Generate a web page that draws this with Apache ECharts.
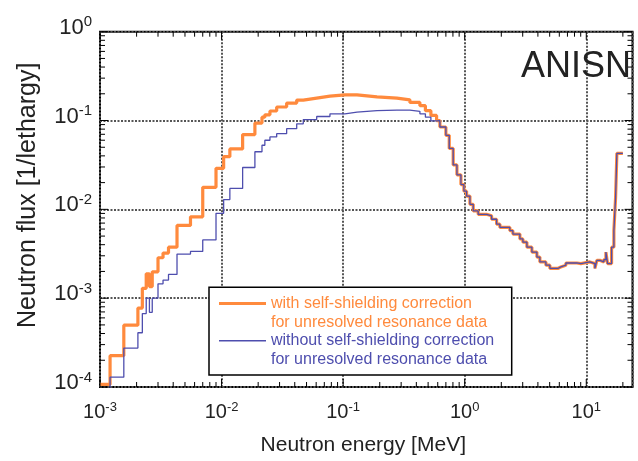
<!DOCTYPE html>
<html><head><meta charset="utf-8">
<script src="https://cdn.jsdelivr.net/npm/echarts@6/dist/echarts.min.js"></script>
<style>html,body{margin:0;padding:0;background:#fff}#c{width:638px;height:461px}</style>
</head><body><div id="c"></div>
<script>
// Group boundaries (MeV)
const energyEdges = [0.001, 0.00121, 0.00157, 0.00205, 0.00223, 0.0024, 0.00255, 0.00269, 0.003, 0.0033,
  0.00366, 0.0043, 0.00555, 0.007, 0.009, 0.0104, 0.0117, 0.0149, 0.0188, 0.0215,
  0.0227, 0.025, 0.0284, 0.0343, 0.0415, 0.047, 0.0606, 0.0779, 0.1035, 0.13,
  0.19, 0.277, 0.354, 0.428, 0.475, 0.527, 0.587, 0.625, 0.70, 0.746,
  0.804, 0.863, 0.931, 0.985, 1.036, 1.104, 1.175, 1.291, 1.514, 1.664,
  1.829, 1.948, 2.353, 2.491, 2.844, 3.011, 3.248, 3.57, 3.925, 4.153,
  4.653, 5.019, 5.84, 6.18, 6.795, 8.37, 9.03, 10.7, 11.77, 12.22,
  12.94, 13.95, 14.5, 14.97, 16.15, 16.87, 17.42, 17.85, 20];

// flux per group (1/lethargy)
const fluxWithSelfShielding = [1.07e-4, 2.25e-4, 4.97e-4, 7.74e-4, 1.29e-3, 1.88e-3, 1.35e-3, 1.98e-3, 2.85e-3, 3.22e-3,
  3.75e-3, 6.59e-3, 8.24e-3, 1.77e-2, 2.9e-2, 3.92e-2, 4.79e-2, 6.94e-2, 9.36e-2, 0.109,
  0.116, 0.128, 0.142, 0.157, 0.170, 0.179, 0.188, 0.194, 0.194, 0.185,
  0.179, 0.171, 0.160, 0.147, 0.129, 0.114, 0.100, 0.0845, 0.0681, 0.0485,
  0.0316, 0.0245, 0.019, 0.016, 0.0141, 0.0114, 0.0096, 0.0088, 0.00845, 0.00774,
  0.00681, 0.00626, 0.00575, 0.00527, 0.00464, 0.00427, 0.00375, 0.0033, 0.0029, 0.00256,
  0.00235, 0.00216, 0.00225, 0.00235, 0.00249, 0.00245, 0.00256, 0.00245, 0.00216, 0.00267,
  0.00256, 0.00271, 0.0033, 0.00245, 0.00375, 0.00575, 0.0135, 0.0427];

const fluxWithoutSelfShielding = [8e-5, 1.29e-4, 2.74e-4, 4.08e-4, 6.71e-4, 1.0e-3, 6.93e-4, 1.0e-3, 1.45e-3, 1.6e-3,
  1.85e-3, 3.14e-3, 3.36e-3, 4.53e-3, 9.03e-3, 1.29e-2, 1.72e-2, 2.96e-2, 4.45e-2, 5.27e-2,
  6.0e-2, 6.54e-2, 7.11e-2, 8.09e-2, 9.19e-2, 0.1026, 0.111, 0.119, 0.124, 0.129,
  0.131, 0.131, 0.127, 0.119, 0.109, 0.099, 0.100, 0.0845, 0.0681, 0.0485,
  0.0316, 0.0245, 0.019, 0.016, 0.0141, 0.0114, 0.0096, 0.0088, 0.00845, 0.00774,
  0.00681, 0.00626, 0.00575, 0.00527, 0.00464, 0.00427, 0.00375, 0.0033, 0.0029, 0.00256,
  0.00235, 0.00216, 0.00225, 0.00235, 0.00249, 0.00245, 0.00256, 0.00245, 0.00216, 0.00267,
  0.00256, 0.00271, 0.0033, 0.00245, 0.00375, 0.00575, 0.0135, 0.0427];

const seriesNames = ['with self-shielding correction\nfor unresolved resonance data',
                     'without self-shielding correction\nfor unresolved resonance data'];

const xTickValues = [0.001, 0.01, 0.1, 1, 10];
const xTickExponents = ['-3', '-2', '-1', '0', '1'];
const yTickValues = [0.0001, 0.001, 0.01, 0.1, 1];
const yTickExponents = ['-4', '-3', '-2', '-1', '0'];
const xMinorTicks = [0.002,0.003,0.004,0.005,0.006,0.007,0.008,0.009,
  0.02,0.03,0.04,0.05,0.06,0.07,0.08,0.09, 0.2,0.3,0.4,0.5,0.6,0.7,0.8,0.9,
  2,3,4,5,6,7,8,9, 20];
const yMinorTicks = [0.0002,0.0003,0.0004,0.0005,0.0006,0.0007,0.0008,0.0009,
  0.002,0.003,0.004,0.005,0.006,0.007,0.008,0.009, 0.02,0.03,0.04,0.05,0.06,0.07,0.08,0.09,
  0.2,0.3,0.4,0.5,0.6,0.7,0.8,0.9];

const X_MIN = 0.001, X_MAX = 24, Y_MIN = 0.0001, Y_MAX = 1;
const FONT = '"Liberation Sans", Arial, Helvetica, sans-serif';
const ORANGE = '#FF8A3D', BLUE = '#4E4EAE';

function stepData(vals) {
  const d = vals.map((v, i) => [energyEdges[i], v]);
  d.push([energyEdges[vals.length], vals[vals.length - 1]]);
  return d;
}
function findIdx(arr, v) {
  return arr.findIndex(t => Math.abs(Math.log10(v) - Math.log10(t)) < 1e-6);
}
const richX = {
  b: { fontSize: 20, fontFamily: FONT, color: '#222' },
  s: { fontSize: 13, fontFamily: FONT, color: '#222', padding: [0, 0, 10, 0] }
};
const richY = {
  b: { fontSize: 22, fontFamily: FONT, color: '#222' },
  s: { fontSize: 15, fontFamily: FONT, color: '#222', padding: [0, 0, 11, 0] }
};
function xTickSeries(vals, len) {
  return {
    type: 'custom', silent: true, clip: false, z: 5,
    data: vals.map(v => [v, Y_MIN]), encode: { x: 0, y: 1 },
    renderItem: (params, api) => {
      const b = api.coord([api.value(0), Y_MIN]);
      const t = api.coord([api.value(0), Y_MAX]);
      const st = { stroke: '#000', lineWidth: 1 };
      return { type: 'group', children: [
        { type: 'line', shape: { x1: b[0], y1: b[1], x2: b[0], y2: b[1] - len }, style: st },
        { type: 'line', shape: { x1: t[0], y1: t[1], x2: t[0], y2: t[1] + len }, style: st }
      ]};
    }
  };
}
function yTickSeries(vals, len) {
  return {
    type: 'custom', silent: true, clip: false, z: 5,
    data: vals.map(v => [X_MIN, v]), encode: { x: 0, y: 1 },
    renderItem: (params, api) => {
      const l = api.coord([X_MIN, api.value(1)]);
      const r = api.coord([X_MAX, api.value(1)]);
      const st = { stroke: '#000', lineWidth: 1 };
      return { type: 'group', children: [
        { type: 'line', shape: { x1: l[0], y1: l[1], x2: l[0] + len, y2: l[1] }, style: st },
        { type: 'line', shape: { x1: r[0], y1: r[1], x2: r[0] - len, y2: r[1] }, style: st }
      ]};
    }
  };
}
const legendText = { fontSize: 16, fontFamily: FONT, lineHeight: 18.7 };

const chart = echarts.init(document.getElementById('c'), null, { renderer: 'canvas' });
chart.setOption({
  animation: false,
  backgroundColor: '#fff',
  title: { text: 'ANISN', right: 7, top: 49, padding: 0,
    textStyle: { fontSize: 36, fontWeight: 'normal', color: '#222', fontFamily: FONT } },
  grid: { left: 100, right: 5.5, top: 31.7, bottom: 69.3, show: true, borderColor: '#000', borderWidth: 2, backgroundColor: 'transparent' },
  xAxis: {
    type: 'log', logBase: 10, min: X_MIN, max: X_MAX,
    name: 'Neutron energy [MeV]', nameLocation: 'middle', nameGap: 48,
    nameTextStyle: { fontSize: 21, fontFamily: FONT, color: '#222', padding: [0, 6, 0, 0] },
    axisLine: { show: false }, axisTick: { show: false },
    axisLabel: { margin: 14, showMaxLabel: false, rich: richX,
      formatter: v => { const i = findIdx(xTickValues, v); return i < 0 ? '' : '{b|10}{s|' + xTickExponents[i] + '}'; } },
    splitLine: { show: true, lineStyle: { color: '#555', width: 2, type: [2, 1.5] } }
  },
  yAxis: {
    type: 'log', logBase: 10, min: Y_MIN, max: Y_MAX,
    name: 'Neutron flux [1/lethargy]', nameLocation: 'middle', nameGap: 59,
    nameTextStyle: { fontSize: 25, fontFamily: FONT, color: '#222', padding: [0, 0, 0, 28] },
    axisLine: { show: false }, axisTick: { show: false },
    axisLabel: { margin: 8, rich: richY, padding: [0, 0, 8, 0],
      formatter: v => { const i = findIdx(yTickValues, v); return i < 0 ? '' : '{b|10}{s|' + yTickExponents[i] + '}'; } },
    splitLine: { show: true, lineStyle: { color: '#555', width: 2, type: [2, 1.5] } }
  },
  legend: [
    { data: [seriesNames[0]], left: 219, top: 275.5, padding: 0, itemWidth: 47, itemHeight: 3, icon: 'rect',
      selectedMode: false, z: 6, formatter: n => '\n' + n,
      textStyle: Object.assign({ color: ORANGE }, legendText) },
    { data: [seriesNames[1]], left: 219, top: 312.6, padding: 0, itemWidth: 47, itemHeight: 1.5, icon: 'rect',
      selectedMode: false, z: 6, formatter: n => '\n' + n,
      textStyle: Object.assign({ color: BLUE }, legendText) }
  ],
  graphic: { elements: [
    { type: 'rect', z: 3, shape: { x: 209, y: 287.3, width: 302.7, height: 87.7 },
      style: { fill: '#fff', stroke: '#000', lineWidth: 1.5 } }
  ]},
  series: [
    { name: seriesNames[0], type: 'line', step: 'end', data: stepData(fluxWithSelfShielding),
      showSymbol: false, clip: true, z: 2, color: ORANGE, lineStyle: { color: ORANGE, width: 3.2 } },
    { name: seriesNames[1], type: 'line', step: 'end', data: stepData(fluxWithoutSelfShielding),
      showSymbol: false, clip: true, z: 2, color: BLUE, lineStyle: { color: BLUE, width: 1.3 } },
    xTickSeries(xTickValues, 8), xTickSeries(xMinorTicks, 5),
    yTickSeries(yTickValues, 8), yTickSeries(yMinorTicks, 5)
  ]
});
</script></body></html>
